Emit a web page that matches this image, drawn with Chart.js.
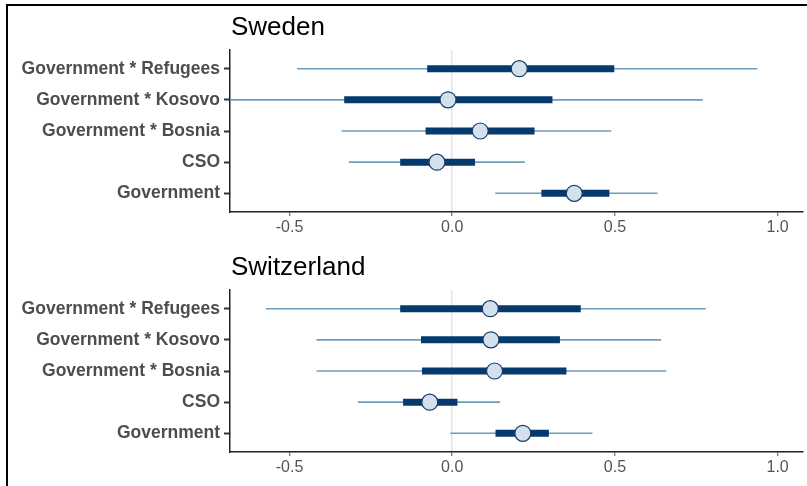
<!DOCTYPE html>
<html>
<head>
<meta charset="utf-8">
<script src="https://cdn.jsdelivr.net/npm/chart.js@4"></script>
<style>
  body { margin: 0; background: #fff; width: 807px; height: 486px; overflow: hidden; position: relative; }
  #frame { position: absolute; left: 6px; top: 4px; width: 900px; height: 600px; border-left: 2px solid #000; border-top: 2px solid #000; }
  canvas { position: absolute; left: 0; }
</style>
</head>
<body>
<div id="frame"></div>
<canvas id="sweden" width="807" height="240" style="top:0"></canvas>
<canvas id="switzerland" width="807" height="240" style="top:240px"></canvas>
<script>
// terms, top to bottom
const terms = ['Government * Refugees', 'Government * Kosovo', 'Government * Bosnia', 'CSO', 'Government'];
const xTicks = [-0.5, 0, 0.5, 1.0];

// Sweden
const swedenEst = [0.206, -0.013, 0.086, -0.047, 0.375];
const swedenLo95 = [-0.477, -0.76, -0.34, -0.318, 0.132];
const swedenHi95 = [0.938, 0.770, 0.489, 0.223, 0.631];
const swedenLo = [-0.077, -0.332, -0.082, -0.16, 0.274];
const swedenHi = [0.498, 0.308, 0.253, 0.07, 0.483];

// Switzerland
const swissEst = [0.117, 0.119, 0.13, -0.069, 0.217];
const swissLo95 = [-0.573, -0.417, -0.417, -0.29, -0.006];
const swissHi95 = [0.779, 0.642, 0.658, 0.147, 0.431];
const swissLo = [-0.16, -0.096, -0.093, -0.151, 0.133];
const swissHi = [0.395, 0.331, 0.351, 0.016, 0.297];

Chart.defaults.font.family = '"Liberation Sans", Arial, sans-serif';
Chart.defaults.animation = false;

// row position: first term on top
function rowY(i) { return terms.length - i; }

const titlePlugin = {
  id: 'panelTitle',
  afterDraw(chart, args, opts) {
    const ctx = chart.ctx;
    ctx.save();
    ctx.fillStyle = '#000';
    ctx.font = '26px "Liberation Sans", Arial, sans-serif';
    ctx.textBaseline = 'alphabetic';
    ctx.fillText(opts.text, chart.chartArea.left + 1, 35);
    ctx.restore();
  }
};

function makePanel(id, title, est, lo95, hi95, lo, hi) {
  const datasets = [];
  // thin (outer) intervals
  terms.forEach((t, i) => {
    datasets.push({
      data: [{ x: lo95[i], y: rowY(i) }, { x: hi95[i], y: rowY(i) }],
      showLine: true, borderColor: '#6d9ec0', borderWidth: 1.6, pointRadius: 0, order: 3
    });
  });
  // thick (inner) intervals
  terms.forEach((t, i) => {
    datasets.push({
      data: [{ x: lo[i], y: rowY(i) }, { x: hi[i], y: rowY(i) }],
      showLine: true, borderColor: '#063a6d', borderWidth: 7, pointRadius: 0, order: 2
    });
  });
  // estimates
  datasets.push({
    data: est.map((v, i) => ({ x: v, y: rowY(i) })),
    pointRadius: 8, pointBackgroundColor: '#d2e1ec',
    pointBorderColor: '#1d3a66', pointBorderWidth: 1.2, order: 1
  });

  return new Chart(document.getElementById(id), {
    type: 'scatter',
    data: { datasets: datasets },
    plugins: [titlePlugin],
    options: {
      responsive: false,
      devicePixelRatio: 1,
      layout: { autoPadding: false, padding: { top: 50, right: 4, bottom: 0, left: 0 } },
      plugins: {
        legend: { display: false },
        tooltip: { enabled: false },
        panelTitle: { text: title }
      },
      scales: {
        x: {
          min: -0.683, max: 1.078,
          afterBuildTicks: s => { s.ticks = xTicks.map(v => ({ value: v })); },
          afterFit: s => { s.height = 28; },
          ticks: {
            callback: v => v.toFixed(1),
            color: '#555', font: { size: 16 }, padding: 2, maxRotation: 0
          },
          grid: {
            color: c => (c.tick && c.tick.value === 0) ? '#e3e3e3' : 'rgba(0,0,0,0)',
            lineWidth: 1.5,
            tickColor: '#555', tickLength: 4, tickWidth: 1
          },
          border: { display: true, color: '#222', width: 1.5 }
        },
        y: {
          min: 0.4, max: 5.6,
          afterBuildTicks: s => { s.ticks = terms.map((t, i) => ({ value: rowY(i) })); },
          afterFit: s => { s.width = 230; },
          ticks: {
            callback: v => terms[terms.length - v],
            color: '#4d4d4d', font: { size: 17.5, weight: 'bold' }, padding: 4
          },
          grid: {
            color: 'rgba(0,0,0,0)',
            tickColor: '#333', tickLength: 6, tickWidth: 2
          },
          border: { display: true, color: '#222', width: 1.5 }
        }
      }
    }
  });
}

makePanel('sweden', 'Sweden', swedenEst, swedenLo95, swedenHi95, swedenLo, swedenHi);
makePanel('switzerland', 'Switzerland', swissEst, swissLo95, swissHi95, swissLo, swissHi);
</script>
</body>
</html>
